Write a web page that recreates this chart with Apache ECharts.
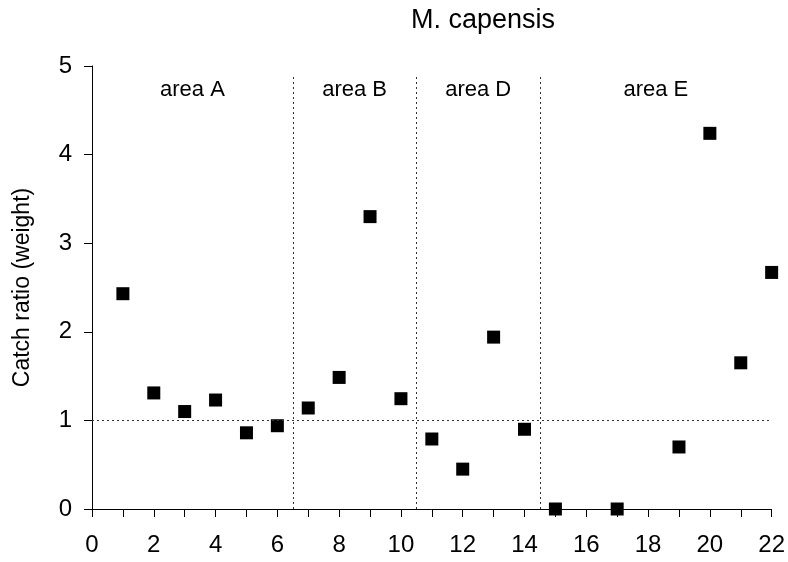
<!DOCTYPE html>
<html><head><meta charset="utf-8">
<script src="https://cdn.jsdelivr.net/npm/echarts@6/dist/echarts.min.js"></script>
<style>html,body{margin:0;padding:0;background:#fff}#c{width:788px;height:562px}</style>
</head><body><div id="c"></div>
<script>
const sampleX = [1,2,3,4,5,6,7,8,9,10,11,12,13,14,15,17,19,20,21,22];
const catchRatio = [2.43,1.31,1.10,1.23,0.86,0.94,1.14,1.485,3.30,1.245,0.79,0.45,1.94,0.90,0.0,0.0,0.70,4.24,1.65,2.67];
const areaNames = ['area A','area B','area D','area E'];
const areaBounds = [0,6.5,10.5,14.5,22];
const xTicks = [0,2,4,6,8,10,12,14,16,18,20,22];
const yTicks = [0,1,2,3,4,5];
const refRatio = 1;

const font = 'Liberation Sans, Arial, sans-serif';
const areaLabelData = areaNames.map((n,i)=>({value:[(areaBounds[i]+areaBounds[i+1])/2, 4.73], name:n}));

const chart = echarts.init(document.getElementById('c'));
chart.setOption({
  animation:false,
  title:{text:'M. capensis', left:478, top:2, textAlign:'center',
    textStyle:{fontFamily:font,fontSize:27,fontWeight:'normal',color:'#000'}},
  grid:{left:92,right:15,top:66,bottom:53},
  xAxis:{type:'value',min:0,max:22,interval:1,
    axisLine:{show:true,onZero:false,lineStyle:{color:'#000',width:1}},
    axisTick:{show:true,length:8,lineStyle:{color:'#000'}},
    axisLabel:{fontFamily:font,fontSize:24,color:'#000',margin:24,
      formatter:v=>xTicks.includes(v)?String(v):''},
    splitLine:{show:false}},
  yAxis:{type:'value',min:0,max:5,interval:1,name:'Catch ratio (weight)',
    nameLocation:'middle',nameGap:58,nameRotate:90,
    nameTextStyle:{fontFamily:font,fontSize:23,color:'#000'},
    axisLine:{show:true,lineStyle:{color:'#000',width:1}},
    axisTick:{show:true,length:8,lineStyle:{color:'#000'}},
    axisLabel:{fontFamily:font,fontSize:24,color:'#000',margin:20,padding:[9,0,0,0],
      formatter:v=>yTicks.includes(v)?String(v):''},
    splitLine:{show:false}},
  series:[
    {type:'scatter',symbol:'rect',symbolSize:13,itemStyle:{color:'#000',opacity:1},
      data:sampleX.map((x,i)=>[x,catchRatio[i]]),
      markLine:{silent:true,symbol:'none',label:{show:false},
        lineStyle:{color:'#333',type:[2,3],width:1,opacity:1},
        data:[
          [{coord:[0,refRatio]},{coord:[22,refRatio]}],
          ...areaBounds.slice(1,-1).map(b=>[{coord:[b,0]},{coord:[b,4.88]}])
        ]}},
    {type:'scatter',symbolSize:0,silent:true,data:areaLabelData,itemStyle:{opacity:1},
      label:{show:true,position:'inside',formatter:p=>p.name,
        fontFamily:font,fontSize:22,color:'#000'}}
  ]
});
</script></body></html>
